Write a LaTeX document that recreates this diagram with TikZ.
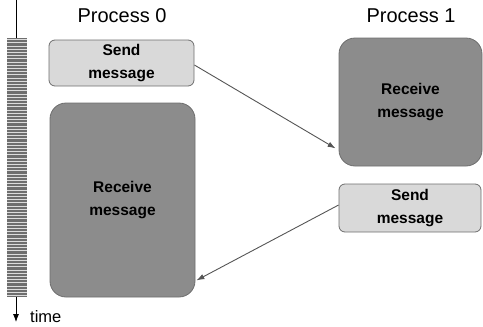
\documentclass[tikz,border=0pt]{standalone}
\usepackage{fontspec}
\setmainfont{Liberation Sans}
\usepackage{tikz}
\usetikzlibrary{arrows.meta,calc,positioning}
\definecolor{ink}{HTML}{000000}
\definecolor{edgegray}{HTML}{6E6E6E}
\definecolor{arrgray}{HTML}{555555}
\definecolor{lightbox}{HTML}{D9D9D9}
\definecolor{darkbox}{HTML}{8C8C8C}
\definecolor{barfill}{HTML}{6E6E6E}
\definecolor{barline}{HTML}{DCDCDC}
\tikzset{
  msgarr/.style={-{Latex[length=8pt,width=5.5pt]},line width=0.9pt,color=arrgray},
  timearr/.style={-{Latex[length=8pt,width=6pt]},line width=0.8pt,color=ink},
  sendcard/.style={draw=edgegray,fill=lightbox,line width=0.8pt,rounded corners=6pt,align=center,inner sep=0pt,
    font=\fontsize{15.5}{23}\selectfont\bfseries},
  recvcard/.style={draw=edgegray,fill=darkbox,line width=0.8pt,rounded corners=16pt,align=center,inner sep=0pt,
    font=\fontsize{15.5}{23}\selectfont\bfseries},
  proclabel/.style={anchor=base,font=\fontsize{20}{24}\selectfont,inner sep=0pt}
}

\begin{document}
\begin{tikzpicture}[x=1pt,y=-1pt,>=Latex]
  \useasboundingbox (0,0) rectangle (483,327);
  % time line
  \coordinate (ttop) at (16,0);
  \coordinate (tend) at (16,322);
  \draw[timearr] (ttop) -- (tend);
  \fill[barfill] (7,38) rectangle (27,297);
  \foreach \k in {0,...,80}
    \draw[barline,line width=0.75pt] (7,39.5+3.2*\k) -- (27,39.5+3.2*\k);
  \node[anchor=base west,font=\fontsize{16.5}{20}\selectfont,inner sep=0pt] (tlabel) at (30,322) {time};

  \node[proclabel] (p0) at (122,22) {Process 0};
  \node[proclabel] (p1) at (411,22) {Process 1};

  \node[sendcard,minimum width=145pt,minimum height=46pt] (send0) at (121.5,63) {Send\\message};
  \node[recvcard,minimum width=145pt,minimum height=194pt] (recv0) at (122.5,200) {Receive\\message};
  \node[recvcard,minimum width=143pt,minimum height=128pt] (recv1) at (410.5,102) {Receive\\message};
  \node[sendcard,minimum width=142pt,minimum height=48pt] (send1) at (410,208) {Send\\message};

  \draw[msgarr] ([yshift=-2pt]send0.east) -- ([xshift=-3pt,yshift=18pt]recv1.south west);
  \draw[msgarr] ([yshift=3pt]send1.west) -- ([xshift=1pt,yshift=17pt]recv0.south east);
\end{tikzpicture}
\end{document}
